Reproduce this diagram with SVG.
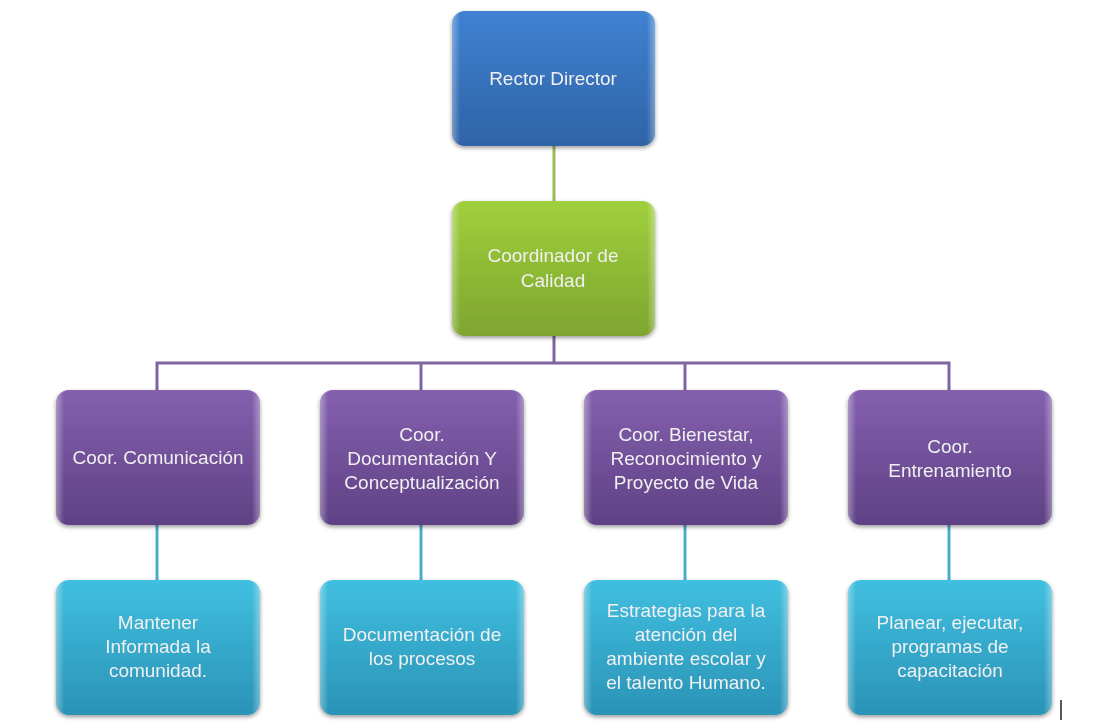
<svg xmlns="http://www.w3.org/2000/svg" width="1097" height="723" viewBox="0 0 1097 723">
<defs>
<linearGradient id="gBlue" x1="0" y1="0" x2="0" y2="1"><stop offset="0" stop-color="#3f82d2"/><stop offset="1" stop-color="#2f63a6"/></linearGradient>
<linearGradient id="gGreen" x1="0" y1="0" x2="0" y2="1"><stop offset="0" stop-color="#9fd03c"/><stop offset="1" stop-color="#7ea52f"/></linearGradient>
<linearGradient id="gPurple" x1="0" y1="0" x2="0" y2="1"><stop offset="0" stop-color="#8460ae"/><stop offset="1" stop-color="#5f4185"/></linearGradient>
<linearGradient id="gTeal" x1="0" y1="0" x2="0" y2="1"><stop offset="0" stop-color="#41bfe0"/><stop offset="1" stop-color="#2a93b6"/></linearGradient>
<linearGradient id="gEdge" x1="0" y1="0" x2="1" y2="0"><stop offset="0" stop-color="#fff" stop-opacity="0.35"/><stop offset="0.04" stop-color="#fff" stop-opacity="0"/><stop offset="0.96" stop-color="#fff" stop-opacity="0"/><stop offset="1" stop-color="#fff" stop-opacity="0.35"/></linearGradient>
<filter id="sh" x="-10%" y="-10%" width="120%" height="125%"><feGaussianBlur in="SourceAlpha" stdDeviation="2"/><feOffset dy="2"/><feComponentTransfer><feFuncA type="linear" slope="0.4"/></feComponentTransfer><feMerge><feMergeNode/><feMergeNode in="SourceGraphic"/></feMerge></filter>
</defs>
<style>
.box{filter:url(#sh);}
.edge{fill:url(#gEdge);}
.t{font-family:"Liberation Sans",Arial,sans-serif;font-size:19px;fill:#f0f0f0;text-anchor:middle;}
.cg{stroke:#9bbb59;stroke-width:3;fill:none;}
.cp{stroke:#8064a2;stroke-width:3;fill:none;}
.ct{stroke:#4bacc6;stroke-width:3;fill:none;}
</style>
<rect width="1097" height="723" fill="#ffffff"/>
<g id="connectors">
<line class="cg" x1="554" y1="146" x2="554" y2="202"/>
<polyline class="cp" points="554,336 554,363"/>
<polyline class="cp" points="157,391 157,363 949,363 949,391"/>
<line class="cp" x1="421" y1="363" x2="421" y2="391"/>
<line class="cp" x1="685" y1="363" x2="685" y2="391"/>
<line class="ct" x1="157" y1="524" x2="157" y2="581"/>
<line class="ct" x1="421" y1="524" x2="421" y2="581"/>
<line class="ct" x1="685" y1="524" x2="685" y2="581"/>
<line class="ct" x1="949" y1="524" x2="949" y2="581"/>
</g>
<g id="n-rector" class="box">
<rect x="452" y="11" width="203" height="135" rx="13" fill="url(#gBlue)"/>
<rect x="452" y="11" width="203" height="135" rx="13" class="edge"/>
<text class="t" x="553" y="85">Rector Director</text>
</g>
<g id="n-coordinador" class="box">
<rect x="452" y="201" width="203" height="135" rx="13" fill="url(#gGreen)"/>
<rect x="452" y="201" width="203" height="135" rx="13" class="edge"/>
<text class="t" x="553" y="262">Coordinador de</text>
<text class="t" x="553" y="287">Calidad</text>
</g>
<g id="n-comunicacion" class="box">
<rect x="56" y="390" width="204" height="135" rx="13" fill="url(#gPurple)"/>
<rect x="56" y="390" width="204" height="135" rx="13" class="edge"/>
<text class="t" x="158" y="464">Coor. Comunicación</text>
</g>
<g id="n-documentacion" class="box">
<rect x="320" y="390" width="204" height="135" rx="13" fill="url(#gPurple)"/>
<rect x="320" y="390" width="204" height="135" rx="13" class="edge"/>
<text class="t" x="422" y="441">Coor.</text>
<text class="t" x="422" y="465">Documentación Y</text>
<text class="t" x="422" y="489">Conceptualización</text>
</g>
<g id="n-bienestar" class="box">
<rect x="584" y="390" width="204" height="135" rx="13" fill="url(#gPurple)"/>
<rect x="584" y="390" width="204" height="135" rx="13" class="edge"/>
<text class="t" x="686" y="441">Coor. Bienestar,</text>
<text class="t" x="686" y="465">Reconocimiento y</text>
<text class="t" x="686" y="489">Proyecto de Vida</text>
</g>
<g id="n-entrenamiento" class="box">
<rect x="848" y="390" width="204" height="135" rx="13" fill="url(#gPurple)"/>
<rect x="848" y="390" width="204" height="135" rx="13" class="edge"/>
<text class="t" x="950" y="453">Coor.</text>
<text class="t" x="950" y="477">Entrenamiento</text>
</g>
<g id="n-mantener" class="box">
<rect x="56" y="580" width="204" height="135" rx="13" fill="url(#gTeal)"/>
<rect x="56" y="580" width="204" height="135" rx="13" class="edge"/>
<text class="t" x="158" y="629">Mantener</text>
<text class="t" x="158" y="653">Informada la</text>
<text class="t" x="158" y="677">comunidad.</text>
</g>
<g id="n-procesos" class="box">
<rect x="320" y="580" width="204" height="135" rx="13" fill="url(#gTeal)"/>
<rect x="320" y="580" width="204" height="135" rx="13" class="edge"/>
<text class="t" x="422" y="641">Documentación de</text>
<text class="t" x="422" y="665">los procesos</text>
</g>
<g id="n-estrategias" class="box">
<rect x="584" y="580" width="204" height="135" rx="13" fill="url(#gTeal)"/>
<rect x="584" y="580" width="204" height="135" rx="13" class="edge"/>
<text class="t" x="686" y="617">Estrategias para la</text>
<text class="t" x="686" y="641">atención del</text>
<text class="t" x="686" y="665">ambiente escolar y</text>
<text class="t" x="686" y="689">el talento Humano.</text>
</g>
<g id="n-planear" class="box">
<rect x="848" y="580" width="204" height="135" rx="13" fill="url(#gTeal)"/>
<rect x="848" y="580" width="204" height="135" rx="13" class="edge"/>
<text class="t" x="950" y="629">Planear, ejecutar,</text>
<text class="t" x="950" y="653">programas de</text>
<text class="t" x="950" y="677">capacitación</text>
</g>
<line x1="1061" y1="700" x2="1061" y2="720" stroke="#222" stroke-width="1.5"/>
</svg>
